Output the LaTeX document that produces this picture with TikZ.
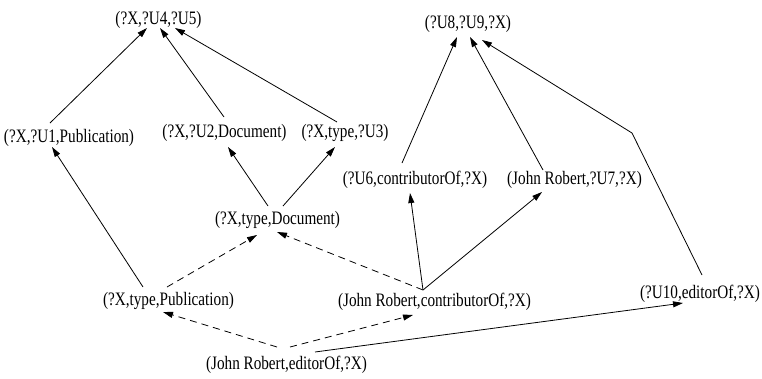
\documentclass[tikz,border=0pt]{standalone}
\usepackage{fontspec}
\setmainfont{Liberation Serif}[FakeStretch=0.8]
\usetikzlibrary{arrows.meta,calc}
\begin{document}
\begin{tikzpicture}[x=1pt,y=-1pt,
  lbl/.style={inner sep=0pt,anchor=center,font=\fontsize{19}{22}\selectfont},
  arr/.style={line width=0.8pt,-{Triangle[length=10pt,width=6pt]}},
  darr/.style={arr,dash pattern=on 7pt off 5pt}]
\useasboundingbox (0,0) rectangle (762,378);
\node[lbl] (n1) at (158.5,19.5) {(?X,?U4,?U5)};
\node[lbl] (n2) at (69,137.5) {(?X,?U1,Publication)};
\node[lbl] (n3) at (224.5,133) {(?X,?U2,Document)};
\node[lbl] (n4) at (345,133) {(?X,type,?U3)};
\node[lbl] (n5) at (277.5,220) {(?X,type,Document)};
\node[lbl] (n6) at (168.5,301) {(?X,type,Publication)};
\node[lbl] (n7) at (286.5,365) {(John Robert,editorOf,?X)};
\node[lbl] (n8) at (434.5,302) {(John Robert,contributorOf,?X)};
\node[lbl] (n9) at (415,180) {(?U6,contributorOf,?X)};
\node[lbl] (n10) at (574.5,180) {(John Robert,?U7,?X)};
\node[lbl] (n11) at (468,23.5) {(?U8,?U9,?X)};
\node[lbl] (n12) at (700,294) {(?U10,editorOf,?X)};
\coordinate (bend) at (632,133);
% solid
\draw[arr] ($(n2)+(-19,-14.5)$) -- ($(n1)+(-11.5,8.5)$);
\draw[arr] ($(n3)+(-0.5,-16)$) -- ($(n1)+(1.5,8.5)$);
\draw[arr] ($(n4)+(-8,-11)$) -- ($(n1)+(16.5,8.5)$);
\draw[arr] ($(n6)+(-25.5,-14)$) -- ($(n2)+(-17,9.5)$);
\draw[arr] ($(n5)+(-9.5,-14)$) -- ($(n3)+(3.5,14)$);
\draw[arr] ($(n5)+(5.5,-14)$) -- ($(n4)+(-10,14)$);
\draw[arr] ($(n9)+(-13,-17)$) -- ($(n11)+(-11,13.5)$);
\draw[arr] ($(n10)+(-31.5,-10)$) -- ($(n11)+(2,13.5)$);
\draw[arr] ($(n12)+(2,-19)$) -- (bend) -- ($(n11)+(14,16.5)$);
\draw[arr] ($(n8)+(-11.5,-12)$) -- ($(n9)+(-5,13)$);
\draw[arr] ($(n8)+(-11.5,-12)$) -- ($(n10)+(-32.5,12)$);
\draw[arr] ($(n7)+(28.5,-13)$) -- ($(n12)+(-17,9)$);
% dashed
\draw[darr] ($(n6)+(-1.5,-14)$) -- ($(n5)+(-20.5,15)$);
\draw[darr] ($(n8)+(-11.5,-12)$) -- ($(n5)+(-0.5,12)$);
\draw[darr] ($(n7)+(-9.5,-18)$) -- ($(n6)+(-5.5,11)$);
\draw[darr] ($(n7)+(3.5,-18)$) -- ($(n8)+(-21.5,13)$);
\end{tikzpicture}
\end{document}
